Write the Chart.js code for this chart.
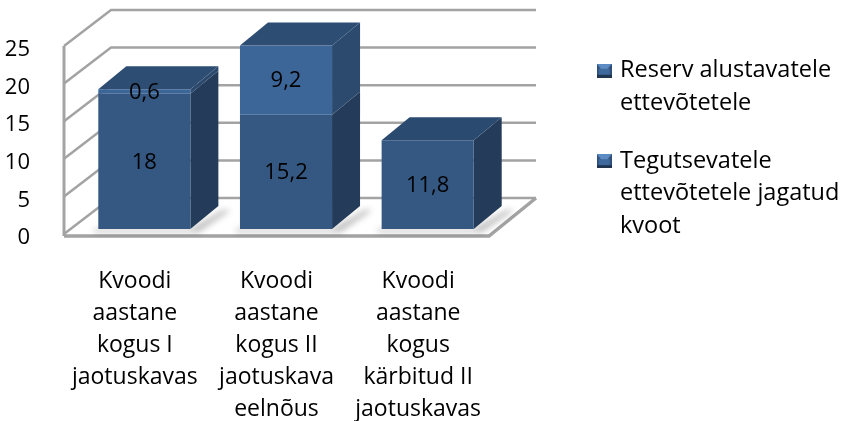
<!DOCTYPE html>
<html>
<head>
<meta charset="utf-8">
<style>
  html, body { margin: 0; padding: 0; background: #fff; }
  canvas { display: block; }
</style>
<script src="https://cdn.jsdelivr.net/npm/chart.js@4"></script>
</head>
<body>
<canvas id="kvoot" width="853" height="421"></canvas>
<script>
const categories = [
  ["Kvoodi", "aastane", "kogus I", "jaotuskavas"],
  ["Kvoodi", "aastane", "kogus II", "jaotuskava", "eelnõus"],
  ["Kvoodi", "aastane", "kogus", "kärbitud II", "jaotuskavas"]
];
const tegutsevatele = [18, 15.2, 11.8];
const reserv = [0.6, 9.2, null];
const tegutsevateleName = ["Tegutsevatele", "ettevõtetele jagatud", "kvoot"];
const reservName = ["Reserv alustavatele", "ettevõtetele"];

const fontName = "'Open Sans', sans-serif";
const fontSize = 22;
const gridColor = "#a3a3a3";

// how far the back wall sits from the front plane
const wallDx = 47, wallDy = -36;
// how far the bars sit from the front plane, and how deep they are
const barShiftX = 9.5, barShiftY = -5;
const barDx = 28, barDy = -23;

// the blue legend swatch with its little bevel
function makeSwatch() {
  const c = document.createElement("canvas");
  c.width = 15;
  c.height = 14;
  const g = c.getContext("2d");
  g.fillStyle = "#2f5078";
  g.fillRect(0, 0, 15, 14);
  g.fillStyle = "#5d8cc4";
  g.beginPath();
  g.moveTo(0, 0); g.lineTo(15, 0); g.lineTo(11, 5); g.lineTo(4, 5);
  g.fill();
  g.fillStyle = "#1f3550";
  g.fillRect(0, 11, 15, 3);
  g.fillStyle = "#3f6a9e";
  g.fillRect(2, 5, 11, 6);
  return c;
}
const swatch = makeSwatch();

function poly(ctx, color, pts) {
  ctx.fillStyle = color;
  ctx.beginPath();
  pts.forEach((p, i) => (i ? ctx.lineTo(p[0], p[1]) : ctx.moveTo(p[0], p[1])));
  ctx.closePath();
  ctx.fill();
}

// walls, floor and grid of the 3D box, taken from the y scale
const boxPlugin = {
  id: "box",
  beforeDatasetsDraw(chart) {
    const { ctx, chartArea, scales } = chart;
    const left = chartArea.left, right = chartArea.right;
    const base = scales.y.getPixelForValue(0);
    ctx.save();
    ctx.strokeStyle = gridColor;
    ctx.lineWidth = 2.5;
    scales.y.ticks.forEach((t) => {
      const y = scales.y.getPixelForValue(t.value);
      ctx.beginPath();
      ctx.moveTo(left, y);
      ctx.lineTo(left + wallDx, y + wallDy);
      ctx.lineTo(right + wallDx, y + wallDy);
      ctx.stroke();
    });
    // left edge and floor edges
    ctx.lineWidth = 3;
    ctx.beginPath();
    ctx.moveTo(left, scales.y.getPixelForValue(25));
    ctx.lineTo(left, base + 2);
    ctx.stroke();
    ctx.beginPath();
    ctx.moveTo(right + wallDx, base + wallDy);
    ctx.lineTo(right, base + 2);
    ctx.lineTo(left, base + 2);
    ctx.lineWidth = 3.5;
    ctx.stroke();
    ctx.restore();
  }
};

// sides and tops of the bars, then the front faces come from Chart.js
const depthPlugin = {
  id: "depth",
  beforeDatasetsDraw(chart) {
    const { ctx } = chart;
    ctx.save();
    ctx.translate(barShiftX, barShiftY);
    const sideColors = ["#243c59", "#2c4a6e"];
    const topColors = ["#2b4a70", "#2e4d73"];
    categories.forEach((_, i) => {
      // soft shadow on the floor
      const low = chart.getDatasetMeta(0).data[i].getProps(["x", "base", "width"], true);
      const r = low.x + low.width / 2;
      ctx.save();
      ctx.filter = "blur(3px)";
      poly(ctx, "rgba(0,0,0,0.28)", [
        [low.x - low.width / 2 - 4, low.base],
        [r, low.base],
        [r + barDx + 5, low.base + barDy + 4],
        [r + barDx + 12, low.base + barDy + 4],
        [r + 8, low.base + 3],
        [low.x - low.width / 2 - 4, low.base + 3]
      ]);
      ctx.restore();

      [0, 1].forEach((d) => {
        const value = chart.data.datasets[d].data[i];
        if (value === null) return;
        const el = chart.getDatasetMeta(d).data[i].getProps(["x", "y", "base", "width"], true);
        const rx = el.x + el.width / 2, lx = el.x - el.width / 2;
        poly(ctx, sideColors[d], [
          [rx, el.y], [rx + barDx, el.y + barDy],
          [rx + barDx, el.base + barDy], [rx, el.base]
        ]);
        const isTop = d === 1 || chart.data.datasets[1].data[i] === null;
        if (isTop) {
          poly(ctx, topColors[d], [
            [lx, el.y], [lx + barDx, el.y + barDy],
            [rx + barDx, el.y + barDy], [rx, el.y]
          ]);
        }
      });
    });
  },
  afterDatasetsDraw(chart) {
    const { ctx } = chart;
    // value labels, with a comma as in the original
    ctx.fillStyle = "#000";
    ctx.font = fontSize + "px " + fontName;
    ctx.textAlign = "center";
    ctx.textBaseline = "middle";
    [0, 1].forEach((d) => {
      chart.getDatasetMeta(d).data.forEach((bar, i) => {
        const value = chart.data.datasets[d].data[i];
        if (value === null) return;
        const el = bar.getProps(["x", "y", "base"], true);
        ctx.fillText(String(value).replace(".", ","), el.x, (el.y + el.base) / 2 + 1);
      });
    });
    ctx.restore();
  }
};

// the legend stays native, only its box is moved
const legendPlugin = {
  id: "legendSpot",
  afterLayout(chart) {
    const l = chart.legend;
    l.left = 575.25;
    l.right = 853;
    l.width = 277.75;
    l.top = 34;
  }
};

new Chart(document.getElementById("kvoot"), {
  type: "bar",
  data: {
    labels: categories,
    datasets: [
      { label: "Tegutsevatele", data: tegutsevatele, backgroundColor: "#345882", clip: false },
      { label: "Reserv", data: reserv, backgroundColor: "#3d6698", clip: false }
    ]
  },
  options: {
    responsive: false,
    animation: false,
    layout: { padding: { top: 46, right: 164, bottom: 0, left: 0 } },
    datasets: { bar: { barPercentage: 0.65, categoryPercentage: 1, borderWidth: 0 } },
    scales: {
      x: {
        stacked: true,
        grid: { display: false },
        border: { display: false },
        afterFit(scale) { scale.height = 187; },
        ticks: {
          autoSkip: false,
          maxRotation: 0,
          padding: 23,
          color: "#000",
          font: { family: fontName, size: 23, lineHeight: 1.4 }
        }
      },
      y: {
        stacked: true,
        min: 0,
        max: 25,
        grid: { display: false },
        border: { display: false },
        afterFit(scale) { scale.width = 64; },
        ticks: {
          stepSize: 5,
          padding: 26,
          labelOffset: 4,
          color: "#000",
          font: { family: fontName, size: fontSize }
        }
      }
    },
    plugins: {
      tooltip: { enabled: false },
      legend: {
        position: "right",
        align: "start",
        maxWidth: 200,
        labels: {
          color: "#000",
          padding: 25,
          boxWidth: 8,
          usePointStyle: true,
          font: { family: fontName, size: 23.5, lineHeight: 1.39 },
          generateLabels() {
            return [
              { text: reservName, pointStyle: swatch, datasetIndex: 1, fontColor: "#000" },
              { text: tegutsevateleName, pointStyle: swatch, datasetIndex: 0, fontColor: "#000" }
            ];
          }
        }
      }
    }
  },
  plugins: [boxPlugin, depthPlugin, legendPlugin]
});
</script>
</body>
</html>
